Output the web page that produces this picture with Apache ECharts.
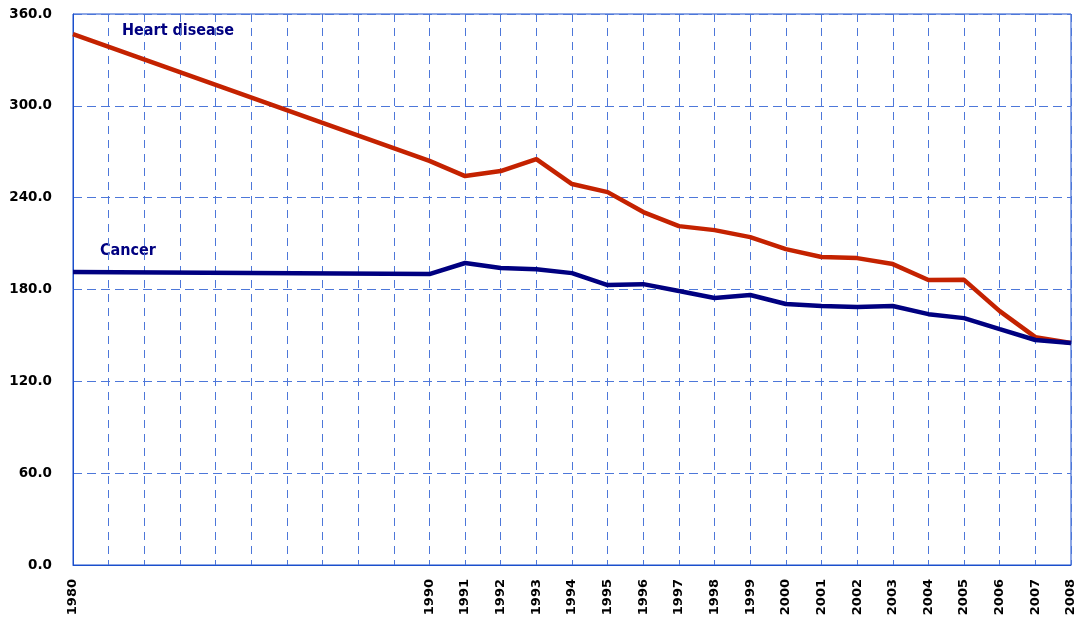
<!DOCTYPE html>
<html>
<head>
    <meta charset="utf-8">
    <script src="https://cdn.jsdelivr.net/npm/echarts@6/dist/echarts.min.js"></script>
</head>
<body style="margin:0">
<div id="main" style="width: 1078px;height:622px;"></div>
<script type="text/javascript">
    // years on the x axis; only 1980 and 1990-2008 carry data
    var years = [];
    for (var y = 1980; y <= 2008; y++) years.push(String(y));
    var shownYears = ['1980', '1990', '1991', '1992', '1993', '1994', '1995', '1996', '1997', '1998', '1999',
        '2000', '2001', '2002', '2003', '2004', '2005', '2006', '2007', '2008'];

    var heartDisease = [346.8, null, null, null, null, null, null, null, null, null,
        264.0, 254.1, 257.4, 265.2, 248.9, 243.6, 230.6, 221.4, 218.8, 214.2,
        206.4, 201.2, 200.5, 196.6, 186.2, 186.3, 165.9, 148.9, 145.0];
    var cancer = [191.4, null, null, null, null, null, null, null, null, null,
        190.1, 197.3, 194.0, 193.3, 190.7, 182.9, 183.5, 179.0, 174.4, 176.4,
        170.5, 169.2, 168.5, 169.2, 163.9, 161.3, 154.1, 147.0, 145.0];

    var myChart = echarts.init(document.getElementById('main'));

    var axisBlue = '#1a4fcc';
    var gridBlue = '#4d77d9';
    option = {
        backgroundColor: '#fff',
        animation: false,
        grid: {left: 73, right: 7, top: 14, bottom: 57, show: true, borderColor: axisBlue, borderWidth: 1},
        xAxis: {
            type: 'category',
            boundaryGap: false,
            data: years,
            axisLine: {lineStyle: {color: axisBlue}},
            axisTick: {show: false},
            axisLabel: {
                interval: 0,
                rotate: 90,
                margin: 14,
                fontFamily: 'DejaVu Sans',
                fontWeight: 'bold',
                fontSize: 13,
                color: '#000',
                formatter: function (v) { return shownYears.indexOf(v) >= 0 ? v : ''; }
            },
            splitLine: {show: true, lineStyle: {color: gridBlue, type: [8, 6], width: 1}}
        },
        yAxis: {
            type: 'value',
            min: 0,
            max: 360,
            interval: 60,
            axisLine: {show: true, lineStyle: {color: axisBlue}},
            axisTick: {show: false},
            axisLabel: {
                margin: 21,
                fontFamily: 'DejaVu Sans',
                fontWeight: 'bold',
                fontSize: 13.5,
                color: '#000',
                formatter: function (v) { return v.toFixed(1); }
            },
            splitLine: {lineStyle: {color: gridBlue, type: [9, 5], width: 1}}
        },
        graphic: [
            {type: 'text', left: 122, top: 23, style: {text: 'Heart disease', fill: '#000080',
                font: 'bold 16px "DejaVu Sans Condensed"'}},
            {type: 'text', left: 100, top: 243, style: {text: 'Cancer', fill: '#000080',
                font: 'bold 16px "DejaVu Sans Condensed"'}}
        ],
        series: [
            {
                name: 'Heart disease',
                type: 'line',
                data: heartDisease,
                connectNulls: true,
                showSymbol: false,
                lineStyle: {color: '#c42200', width: 4.5}
            },
            {
                name: 'Cancer',
                type: 'line',
                data: cancer,
                connectNulls: true,
                showSymbol: false,
                lineStyle: {color: '#000080', width: 4.5}
            }
        ]
    };
    myChart.setOption(option);
</script>
</body>
</html>
